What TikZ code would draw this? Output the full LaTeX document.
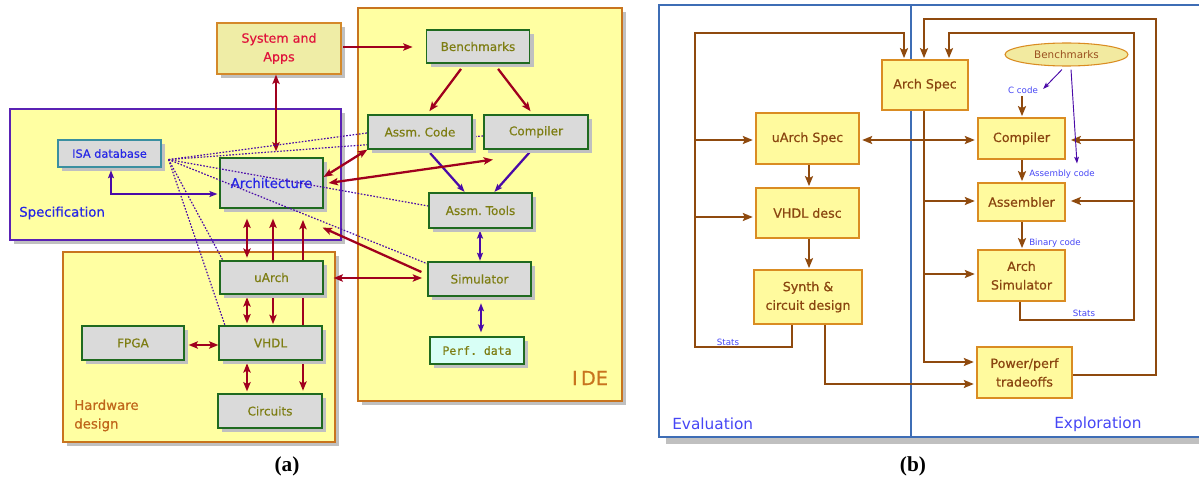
\documentclass[tikz,border=0pt]{standalone}
\usepackage{fontspec}
\newfontfamily\dvs{DejaVu Sans}
\newfontfamily\dvb[FakeBold=0.5]{DejaVu Sans}
\newfontfamily\dvm[FakeBold=0.5]{DejaVu Sans Mono}
\newfontfamily\capfont{Liberation Serif}
\usetikzlibrary{arrows.meta,shadows,calc,shapes.geometric}
\definecolor{crim}{HTML}{A0001E}
\definecolor{purp}{HTML}{4A0AA8}
\definecolor{boxgrey}{HTML}{DADADA}
\definecolor{boxgreen}{HTML}{1F6A1F}
\definecolor{olivetxt}{HTML}{7D7D12}
\definecolor{paley}{HTML}{FFFFA2}
\definecolor{sysfill}{HTML}{EFEDA6}
\definecolor{orng}{HTML}{D4892A}
\definecolor{ideorng}{HTML}{C8741E}
\definecolor{specpurp}{HTML}{5A22B4}
\definecolor{sysred}{HTML}{E0143C}
\definecolor{bluetxt}{HTML}{2626E6}
\definecolor{tealc}{HTML}{3A8FA0}
\definecolor{shadowg}{HTML}{C0C0C0}
\definecolor{hwlab}{HTML}{C0661A}
\definecolor{perffill}{HTML}{D8FFF6}
\definecolor{brn}{HTML}{8F4A0E}
\definecolor{rboxfill}{HTML}{FFFA9E}
\definecolor{rboxdraw}{HTML}{DA8C22}
\definecolor{rtxt}{HTML}{8A4510}
\definecolor{frameblue}{HTML}{3E6DB5}
\definecolor{lblue}{HTML}{4646F5}
\definecolor{ellfill}{HTML}{F2EAA0}
\definecolor{elltxt}{HTML}{9A5020}
\tikzset{
 ct/.tip={Stealth[length=7pt,width=5.5pt,inset=1.5pt]},
 pt/.tip={Stealth[length=6pt,width=4.5pt,inset=1.2pt]},
 bt/.tip={Stealth[length=7.5pt,width=6pt,inset=1.5pt]},
 st/.tip={Stealth[length=5pt,width=3.5pt,inset=1pt]},
 shad/.style={drop shadow={shadow xshift=3pt,shadow yshift=-3pt,fill=shadowg,opacity=1}},
 gbox/.style={draw=boxgreen,line width=0.9pt,fill=boxgrey,text=olivetxt,
   font=\dvb\fontsize{9}{11}\selectfont,inner sep=0pt,
   minimum width=77.25pt,minimum height=25.5pt,shad},
 frame/.style={line width=1pt,fill=paley,shad},
 carrow/.style={draw=crim,line width=1.7pt,-ct},
 cdarrow/.style={draw=crim,line width=1.7pt,ct-ct},
 parrow/.style={draw=purp,line width=1.7pt,-pt},
 pdarrow/.style={draw=purp,line width=1.7pt,pt-pt},
 dotarrow/.style={draw=purp,line width=0.9pt,dash pattern=on 1.2pt off 1.2pt,-{Stealth[length=5.5pt,width=4pt]}},
 rbox/.style={draw=rboxdraw,fill=rboxfill,line width=0.8pt,text=rtxt,
   font=\dvb\fontsize{9.5}{14}\selectfont,align=center,inner sep=0pt},
 barrow/.style={draw=brn,line width=2pt,-bt,shorten >=1pt},
 thinp/.style={draw=purp,line width=0.7pt,-st},
 lbl/.style={text=lblue,font=\dvs\fontsize{6.5}{8}\selectfont,inner sep=0pt},
 capt/.style={font=\capfont\bfseries\fontsize{16}{18}\selectfont,inner sep=0pt},
}
\pgfdeclarelayer{back}
\pgfdeclarelayer{spec}
\pgfdeclarelayer{lines}
\pgfsetlayers{back,spec,lines,main}
\begin{document}
\begin{tikzpicture}[x=0.75pt,y=-0.75pt]
\useasboundingbox (0,0) rectangle (1199,485);
% ================= (a) =================
\begin{pgfonlayer}{back}
\path[frame,draw=specpurp] (10,109) rectangle (341,240);
\path[frame,draw=ideorng] (358,8) rectangle (622,401);
\path[frame,draw=ideorng] (63,252) rectangle (335,442);
\end{pgfonlayer}
\begin{pgfonlayer}{spec}
\node[draw=orng,line width=1pt,fill=sysfill,shad,minimum width=93pt,minimum height=38.25pt,
  inner sep=0pt,align=center,text=sysred,font=\dvb\fontsize{9.5}{14}\selectfont]
  (sysapps) at (279,48.5) {System and\\Apps};
\node[gbox,draw=tealc,text=bluetxt,font=\dvb\fontsize{8.5}{10}\selectfont,minimum height=20.25pt]
  (isa) at (109.5,153.5) {ISA database};
\node[gbox,text=bluetxt,font=\dvb\fontsize{10}{12}\selectfont,minimum height=37.5pt]
  (arch) at (271.5,183) {Architecture};
\end{pgfonlayer}
\node[anchor=west,text=bluetxt,font=\dvb\fontsize{10}{12}\selectfont,inner sep=0pt] (speclbl) at (19,213) {Specification};
\node[anchor=west,text=hwlab,font=\dvb\fontsize{10}{14}\selectfont,align=left,inner sep=0pt] (hwlbl) at (74,415.5) {Hardware\\design};
\node[text=ideorng,font=\dvb\fontsize{14.5}{16}\selectfont,inner sep=0pt] (idelbl) at (590,378) {I\,DE};
\node[gbox,minimum height=24.75pt] (bench) at (478,46.5) {Benchmarks};
\node[gbox,minimum width=78pt] (asmcode) at (420,132) {Assm.\ Code};
\node[gbox,minimum width=78pt] (compiler) at (536,132) {Compiler};
\node[gbox,minimum height=26.25pt] (asmtools) at (480.5,210.5) {Assm.\ Tools};
\node[gbox] (sim) at (479.5,279) {Simulator};
\node[gbox,fill=perffill,minimum width=70.5pt,minimum height=20.25pt,font=\dvm\fontsize{8.6}{10}\selectfont] (perf) at (477,350.5) {Perf.\ data};
\node[gbox,minimum height=24.75pt] (uarch) at (271.5,277.5) {uArch};
\node[gbox] (vhdl) at (270.5,343) {VHDL};
\node[gbox,minimum width=76.5pt] (fpga) at (133,343) {FPGA};
\node[gbox,minimum width=78pt] (circ) at (270,411) {Circuits};
\node[capt] (capa) at (287,466) {(a)};
\begin{pgfonlayer}{lines}
\draw[carrow,shorten >=10pt,shorten <=1pt] (sysapps.east |- 0,47) -- (bench.west |- 0,47);
\draw[cdarrow,shorten >=4.5pt] (sysapps.south -| 276,0) -- (arch.north -| 276,0);
\draw[pdarrow,shorten <=2pt,shorten >=1.5pt] (isa.south -| 111,0) |- (arch.west |- 0,194);
\draw[carrow,shorten <=5pt,shorten >=3pt] (bench.south -| 465,0) -- (asmcode.north -| 427,0);
\draw[carrow,shorten <=5pt,shorten >=3pt] (bench.south -| 494,0) -- (compiler.north -| 533,0);
\draw[parrow,shorten <=3.5pt,shorten >=0.5pt] (asmcode.south -| 427,0) -- (asmtools.north -| 465,0);
\draw[parrow,shorten <=3pt,shorten >=0.5pt] (compiler.south -| 532,0) -- (asmtools.north -| 494,0);
\draw[pdarrow,shorten <=1.5pt,shorten >=0.5pt] (asmtools.south -| 480,0) -- (sim.north -| 480,0);
\draw[pdarrow,shorten <=5pt,shorten >=3pt] (sim.south -| 481,0) -- (perf.north -| 481,0);
\draw[cdarrow] (arch.east |- 0,177) -- (asmcode.south west);
\draw[cdarrow] ($(arch.east)+(5,0)$) -- ($(compiler.south)+(-43,10)$);
\draw[carrow] ($(sim.west)+(-6,-7)$) -- ($(arch.south east)+(-1,19)$);
\draw[cdarrow,shorten <=7.5pt,shorten >=4pt] (uarch.east |- 0,278) -- (sim.west |- 0,278);
\draw[cdarrow,shorten <=7.5pt,shorten >=2pt] (arch.south -| 247,0) -- (uarch.north -| 247,0);
\draw[cdarrow,shorten <=7.5pt,shorten >=1pt] (arch.south -| 273,0) -- (vhdl.north -| 273,0);
\draw[cdarrow,shorten <=8.5pt,shorten >=2pt] (arch.south -| 303,0) -- (circ.north -| 303,0);
\draw[cdarrow,shorten <=2pt,shorten >=1.5pt] (uarch.south -| 247,0) -- (vhdl.north -| 247,0);
\draw[cdarrow,shorten <=2pt,shorten >=1.5pt] (vhdl.south -| 247,0) -- (circ.north -| 247,0);
\draw[cdarrow,shorten <=3pt] (fpga.east |- 0,345) -- (vhdl.west |- 0,345);
\coordinate (isaout) at ($(isa.south east)+(7,-8)$);
\draw[dotarrow] (isaout) -- ($(asmcode.west)+(7,0)$);
\draw[dotarrow] (isaout) -- ($(compiler.west)+(13,3)$);
\draw[dotarrow] (isaout) -- ($(asmtools.west)+(11,-2.5)$);
\draw[dotarrow] (isaout) -- ($(sim.north west)+(9,6)$);
\draw[dotarrow] (isaout) -- ($(uarch.north west)+(10,12)$);
\draw[dotarrow] (isaout) -- ($(vhdl.north west)+(11,13)$);
\end{pgfonlayer}
% ================= (b) =================
\begin{pgfonlayer}{back}
\fill[shadowg] (666,437) rectangle (1199,444);
\draw[frameblue,line width=0.8pt] (1199,5) -- (659,5) -- (659,437) -- (1199,437);
\draw[frameblue,line width=0.8pt] (911,5) -- (911,437);
\end{pgfonlayer}
\node[anchor=west,text=lblue,font=\dvs\fontsize{11.5}{13}\selectfont,inner sep=0pt] (evlbl) at (672,424) {Evaluation};
\node[anchor=west,text=lblue,font=\dvs\fontsize{11.5}{13}\selectfont,inner sep=0pt] (exlbl) at (1054,424) {Exploration};
\node[rbox,minimum width=64.5pt,minimum height=37.5pt] (archspec) at (925,85) {Arch Spec};
\node[rbox,minimum width=77.25pt,minimum height=38.25pt] (uarchspec) at (807.5,138.5) {uArch Spec};
\node[rbox,minimum width=77.25pt,minimum height=37.5pt] (vhdldesc) at (807.5,213) {VHDL desc};
\node[rbox,minimum width=81pt,minimum height=40.5pt] (synth) at (808,297) {Synth \&\\circuit design};
\node[rbox,minimum width=65.25pt,minimum height=30.75pt] (compR) at (1021.5,138.5) {Compiler};
\node[rbox,minimum width=65.25pt,minimum height=28.5pt] (asmR) at (1021.5,202) {Assembler};
\node[rbox,minimum width=65.25pt,minimum height=38.25pt] (archsim) at (1021.5,275.5) {Arch\\Simulator};
\node[rbox,minimum width=71.25pt,minimum height=38.25pt] (power) at (1024.5,372.5) {Power/perf\\tradeoffs};
\node[ellipse,draw=rboxdraw,fill=ellfill,line width=0.8pt,minimum width=92.25pt,minimum height=17.25pt,
  inner sep=0pt,text=elltxt,font=\dvs\fontsize{7.8}{9}\selectfont] (benchR) at (1066.5,54.5) {Benchmarks};
\node[lbl] (ccode) at (1023,90) {C code};
\node[lbl,anchor=west] (asmlbl) at (1029,174) {Assembly code};
\node[lbl,anchor=west] (binlbl) at (1029,243) {Binary code};
\node[lbl] (stats1) at (728,342) {Stats};
\node[lbl] (stats2) at (1084,313) {Stats};
\node[capt] (capb) at (913,466) {(b)};
\begin{pgfonlayer}{lines}
\draw[barrow] (synth.south -| 792,0) -- (792,347) -- (695,347) -- (695,33) -- (904,33) -- (archspec.north -| 904,0);
\draw[barrow,shorten >=2pt] (695,140) -- (uarchspec.west |- 0,140);
\draw[barrow,shorten >=2pt] (695,217) -- (vhdldesc.west |- 0,217);
\draw[barrow] (uarchspec.south -| 809,0) -- (vhdldesc.north -| 809,0);
\draw[barrow] (vhdldesc.south -| 809,0) -- (synth.north -| 809,0);
\draw[barrow,shorten >=2pt] (synth.south -| 825,0) |- (power.west |- 0,384);
\draw[barrow,shorten >=2pt] (archspec.south -| 924,0) |- (power.west |- 0,362);
\draw[barrow,shorten >=2pt] (924,140) -- (compR.west |- 0,140);
\draw[barrow,shorten >=2pt] (924,140) -- (uarchspec.east |- 0,140);
\draw[barrow,shorten >=2pt] (924,201) -- (asmR.west |- 0,201);
\draw[barrow,shorten >=2pt] (924,274) -- (archsim.west |- 0,274);
\draw[barrow] (power.east |- 0,375) -| (1156,19) -| (archspec.north -| 924,0);
\draw[barrow] (archsim.south -| 1020,0) |- (1134,320) |- (949,33) -- (archspec.north -| 949,0);
\draw[barrow,shorten >=4pt] (1134,140) -- (compR.east |- 0,140);
\draw[barrow,shorten >=4pt] (1134,201) -- (asmR.east |- 0,201);
\draw[barrow] (compR.south -| 1022,0) -- (asmR.north -| 1022,0);
\draw[barrow] (asmR.south -| 1022,0) -- (archsim.north -| 1022,0);
\draw[barrow,shorten <=2pt] (ccode.south -| 1022,0) -- (compR.north -| 1022,0);
\draw[thinp] ($(benchR.south)+(-4.5,3)$) -- ($(ccode.east)+(5,-1)$);
\draw[thinp] ($(benchR.south)+(4.5,3)$) -- ($(asmlbl.north west)+(48,-6)$);
\end{pgfonlayer}
\end{tikzpicture}
\end{document}
